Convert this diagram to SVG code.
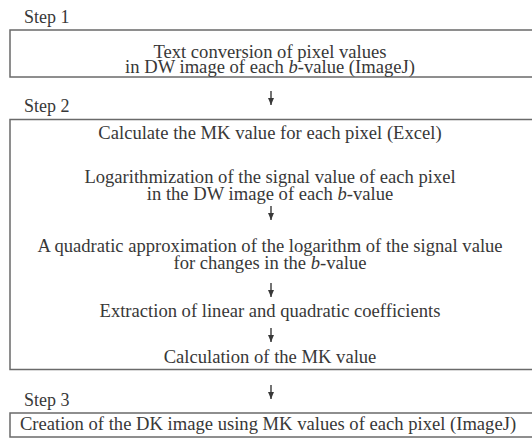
<svg xmlns="http://www.w3.org/2000/svg" width="532" height="438" viewBox="0 0 532 438">
  <style>
    .lbl { font-family: "Liberation Serif", "Times New Roman", serif; font-size: 18.6px; fill: #383838; }
    .step { font-size: 18px; }
    .mid { text-anchor: middle; }
    .box { fill: #fff; stroke: #6a6a6a; stroke-width: 1.5; }
    .arr { stroke: #383838; stroke-width: 1.4; fill: none; }
    .i { font-style: italic; }
  </style>
  <defs>
    <!-- small solid arrowhead, drawn pointing along +x so orient="auto" turns it -->
    <marker id="head" viewBox="0 0 7 6" refX="7" refY="3" markerWidth="7" markerHeight="6" markerUnits="userSpaceOnUse" orient="auto">
      <path d="M0,0 L7,3 L0,6 Z" fill="#383838"/>
    </marker>
  </defs>
  <rect width="532" height="438" fill="#fff"/>

  <!-- Step 1 -->
  <g id="step1">
    <text class="lbl step" x="24" y="22.5">Step 1</text>
    <rect class="box" x="10" y="30" width="530" height="47"/>
    <text class="lbl mid" x="270" y="57.5">Text conversion of pixel values</text>
    <text class="lbl mid" x="270" y="73">in DW image of each <tspan class="i">b</tspan>-value (ImageJ)</text>
  </g>

  <!-- Step 2 -->
  <g id="step2">
    <text class="lbl step" x="24" y="111.5">Step 2</text>
    <rect class="box" x="10" y="119.5" width="530" height="250"/>
    <text class="lbl mid" x="270" y="139">Calculate the MK value for each pixel (Excel)</text>
    <text class="lbl mid" x="270" y="183">Logarithmization of the signal value of each pixel</text>
    <text class="lbl mid" x="270" y="199.5">in the DW image of each <tspan class="i">b</tspan>-value</text>
    <text class="lbl mid" x="270" y="252">A quadratic approximation of the logarithm of the signal value</text>
    <text class="lbl mid" x="270" y="269">for changes in the <tspan class="i">b</tspan>-value</text>
    <text class="lbl mid" x="270" y="317">Extraction of linear and quadratic coefficients</text>
    <text class="lbl mid" x="270" y="363">Calculation of the MK value</text>
  </g>

  <!-- Step 3 -->
  <g id="step3">
    <text class="lbl step" x="24" y="405.5">Step 3</text>
    <rect class="box" x="10" y="413" width="530" height="24"/>
    <text class="lbl mid" x="268" y="430">Creation of the DK image using MK values of each pixel (ImageJ)</text>
  </g>

  <!-- connectors -->
  <g id="connectors">
    <line class="arr" x1="271" y1="91" x2="271" y2="105" marker-end="url(#head)"/>
    <line class="arr" x1="271" y1="206" x2="271" y2="220" marker-end="url(#head)"/>
    <line class="arr" x1="271" y1="283" x2="271" y2="297" marker-end="url(#head)"/>
    <line class="arr" x1="271" y1="328" x2="271" y2="342" marker-end="url(#head)"/>
    <line class="arr" x1="271" y1="385" x2="271" y2="399" marker-end="url(#head)"/>
  </g>
</svg>
